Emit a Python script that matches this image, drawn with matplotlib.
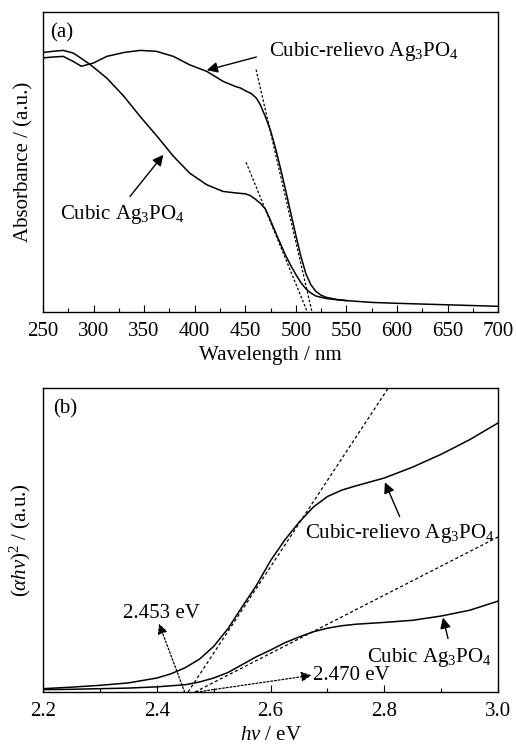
import matplotlib
matplotlib.use("Agg")
import matplotlib.pyplot as plt
from matplotlib.ticker import MultipleLocator, NullLocator

plt.rcParams['font.family'] = ['Liberation Serif', 'DejaVu Serif']
plt.rcParams['mathtext.fontset'] = 'custom'
plt.rcParams['mathtext.rm'] = 'Liberation Serif'
plt.rcParams['mathtext.it'] = 'Liberation Serif:italic'

# ---------------- Panel (a) data ----------------
wl_relievo = [250, 260, 270, 280, 288, 300, 313, 330, 346, 362, 379, 395, 412, 428, 440,
              445, 451, 456, 461, 465, 470, 475, 480, 485, 490, 495, 500, 505, 510, 515,
              520, 525, 530, 540, 550, 575, 600, 650, 700]
abs_relievo = [0.847, 0.850, 0.852, 0.835, 0.819, 0.830, 0.852, 0.865, 0.872, 0.869, 0.852,
               0.824, 0.802, 0.769, 0.752, 0.747, 0.736, 0.728, 0.713, 0.690, 0.650, 0.605,
               0.545, 0.477, 0.405, 0.330, 0.256, 0.186, 0.127, 0.090, 0.068, 0.056, 0.049,
               0.042, 0.038, 0.032, 0.029, 0.024, 0.019]
wl_cubic = [250, 260, 270, 280, 288, 297, 313, 330, 346, 363, 379, 395, 412, 428, 440, 450,
            455, 460, 465, 470, 475, 480, 485, 490, 495, 500, 505, 510, 515, 520, 530, 540, 550]
abs_cubic = [0.865, 0.869, 0.872, 0.863, 0.845, 0.824, 0.780, 0.719, 0.652, 0.585, 0.519,
             0.463, 0.424, 0.402, 0.397, 0.394, 0.388, 0.376, 0.362, 0.343, 0.305, 0.265,
             0.226, 0.188, 0.155, 0.125, 0.098, 0.077, 0.063, 0.053, 0.045, 0.041, 0.038]
tan_a_relievo_x = [460.7, 516.0]
tan_a_relievo_y = [0.808, 0.0]
tan_a_cubic_x = [450.8, 511.4]
tan_a_cubic_y = [0.499, 0.0]

# ---------------- Panel (b) data ----------------
ev_relievo = [2.20, 2.25, 2.30, 2.35, 2.40, 2.425, 2.45, 2.475, 2.50, 2.525, 2.55, 2.575,
              2.60, 2.625, 2.65, 2.675, 2.70, 2.725, 2.75, 2.80, 2.85, 2.90, 2.95, 3.00]
ab_relievo = [0.011, 0.016, 0.022, 0.030, 0.046, 0.060, 0.080, 0.108, 0.150, 0.208, 0.280,
              0.350, 0.432, 0.500, 0.558, 0.608, 0.643, 0.664, 0.678, 0.704, 0.740, 0.782,
              0.830, 0.885]
ev_cubic = [2.20, 2.25, 2.30, 2.35, 2.40, 2.45, 2.475, 2.50, 2.525, 2.55, 2.575, 2.60, 2.625,
            2.65, 2.675, 2.70, 2.725, 2.75, 2.80, 2.85, 2.90, 2.95, 3.00]
ab_cubic = [0.008, 0.009, 0.011, 0.013, 0.017, 0.024, 0.033, 0.046, 0.064, 0.090, 0.116,
            0.138, 0.162, 0.181, 0.198, 0.210, 0.218, 0.223, 0.229, 0.236, 0.250, 0.269, 0.299]
tan_b_relievo_x = [2.455, 2.807]
tan_b_relievo_y = [0.0, 1.0]
tan_b_cubic_x = [2.467, 3.0]
tan_b_cubic_y = [0.0, 0.51]

fig = plt.figure(figsize=(5.16, 7.45), dpi=100)
axA = fig.add_axes([0.0833, 0.5812, 0.882, 0.4027])
axB = fig.add_axes([0.0833, 0.0711, 0.882, 0.4081])

FS = 15
lw = 1.1

def style(ax):
    ax.tick_params(axis='x', which='both', direction='in', top=False, labelsize=FS, pad=7)
    ax.tick_params(axis='x', which='major', length=5, width=0.8)
    ax.tick_params(axis='x', which='minor', length=3, width=0.8)
    ax.yaxis.set_major_locator(NullLocator())
    ax.yaxis.set_minor_locator(NullLocator())
    for s in ax.spines.values():
        s.set_linewidth(1.0)

# Panel (a)
axA.plot(wl_relievo, abs_relievo, color='black', lw=lw)
axA.plot(wl_cubic, abs_cubic, color='black', lw=lw)
axA.plot(tan_a_relievo_x, tan_a_relievo_y, color='black', lw=0.9, ls=(0, (2, 1.5)))
axA.plot(tan_a_cubic_x, tan_a_cubic_y, color='black', lw=0.9, ls=(0, (2, 1.5)))
axA.set_xlim(250, 700)
axA.set_ylim(0, 1)
axA.xaxis.set_major_locator(MultipleLocator(50))
axA.xaxis.set_minor_locator(MultipleLocator(25))
style(axA)
axA.set_xlabel('Wavelength / nm', fontsize=FS, labelpad=4)
axA.set_ylabel('Absorbance / (a.u.)', fontsize=FS, labelpad=7)
axA.text(0.016, 0.93, '(a)', transform=axA.transAxes, fontsize=FS, va='center', ha='left')

solid_arrow = dict(arrowstyle='-|>', color='black', lw=1.0, mutation_scale=16,
                   shrinkA=0, shrinkB=0)
axA.annotate('', xy=(412, 0.806), xytext=(461, 0.850), arrowprops=solid_arrow)
axA.text(473, 0.867, 'Cubic-relievo Ag$_3$PO$_4$', fontsize=FS, va='center', ha='left')
axA.annotate('', xy=(369, 0.524), xytext=(336, 0.385), arrowprops=solid_arrow)
axA.text(267, 0.325, 'Cubic Ag$_3$PO$_4$', fontsize=FS, va='center', ha='left')

# Panel (b)
axB.plot(ev_relievo, ab_relievo, color='black', lw=lw)
axB.plot(ev_cubic, ab_cubic, color='black', lw=lw)
axB.plot(tan_b_relievo_x, tan_b_relievo_y, color='black', lw=0.9, ls=(0, (2.5, 2)))
axB.plot(tan_b_cubic_x, tan_b_cubic_y, color='black', lw=0.9, ls=(0, (2.5, 2)))
axB.set_xlim(2.2, 3.0)
axB.set_ylim(0, 1)
axB.xaxis.set_major_locator(MultipleLocator(0.2))
axB.xaxis.set_minor_locator(MultipleLocator(0.1))
style(axB)
axB.set_xlabel(r'$h\nu$ / eV', fontsize=FS, labelpad=4)
axB.set_ylabel(r'$(\alpha h\nu)^2$ / (a.u.)', fontsize=FS, labelpad=7)
axB.text(0.022, 0.93, '(b)', transform=axB.transAxes, fontsize=FS, va='center', ha='left')

dotted_arrow = dict(arrowstyle='-|>', color='black', lw=0.9, ls=(0, (1.5, 1.5)),
                    mutation_scale=15, shrinkA=0, shrinkB=0)
axB.annotate('', xy=(2.404, 0.225), xytext=(2.449, 0.0), arrowprops=dotted_arrow)
axB.text(2.341, 0.258, '2.453 eV', fontsize=FS, va='center', ha='left')
axB.annotate('', xy=(2.672, 0.055), xytext=(2.47, 0.0), arrowprops=dotted_arrow)
axB.text(2.675, 0.055, '2.470 eV', fontsize=FS, va='center', ha='left')

axB.annotate('', xy=(2.801, 0.690), xytext=(2.827, 0.577), arrowprops=solid_arrow)
axB.text(2.66, 0.522, 'Cubic-relievo Ag$_3$PO$_4$', fontsize=FS, va='center', ha='left')
axB.annotate('', xy=(2.903, 0.245), xytext=(2.912, 0.176), arrowprops=solid_arrow)
axB.text(2.769, 0.115, 'Cubic Ag$_3$PO$_4$', fontsize=FS, va='center', ha='left')

fig.savefig('out.png', dpi=100)
